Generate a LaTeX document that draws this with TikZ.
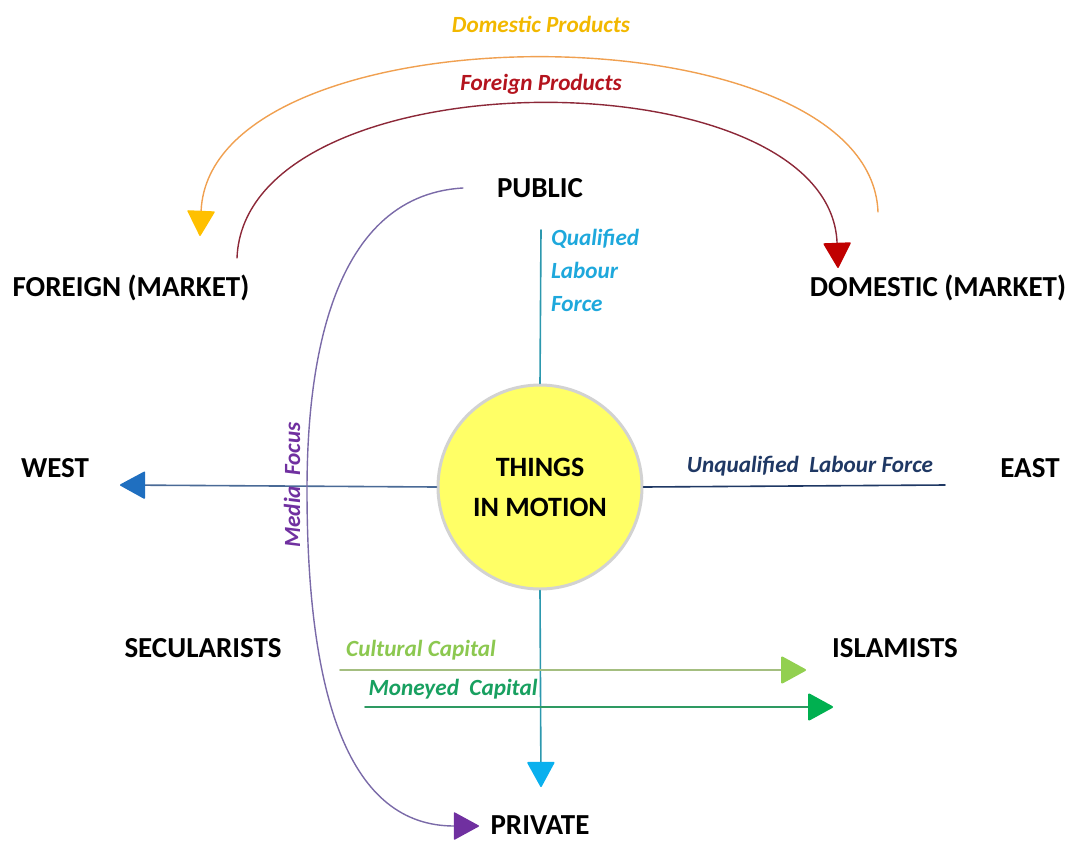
\documentclass[tikz,border=0pt]{standalone}
\usepackage{fontspec}
\setmainfont{Carlito}
\usetikzlibrary{arrows.meta}

\definecolor{goldtxt}{HTML}{F2B800}
\definecolor{goldarc}{HTML}{F0A050}
\definecolor{goldtip}{HTML}{FFC000}
\definecolor{redtxt}{HTML}{B4141E}
\definecolor{redarc}{HTML}{8C2838}
\definecolor{redtip}{HTML}{C00000}
\definecolor{qualtxt}{HTML}{1EA8DC}
\definecolor{qualline}{HTML}{2C98AE}
\definecolor{qualtip}{HTML}{0AB0EE}
\definecolor{unqual}{HTML}{1F3864}
\definecolor{westline}{HTML}{4A6A96}
\definecolor{westtip}{HTML}{1F6FC0}
\definecolor{cultxt}{HTML}{8CC850}
\definecolor{culline}{HTML}{A4BE80}
\definecolor{cultip}{HTML}{92D050}
\definecolor{montxt}{HTML}{18A060}
\definecolor{monline}{HTML}{2E9A62}
\definecolor{montip}{HTML}{00B050}
\definecolor{medtxt}{HTML}{7030A0}
\definecolor{medline}{HTML}{7A6AA8}
\definecolor{coreyel}{HTML}{FFFF66}

\tikzset{
  pole/.style={font=\bfseries\fontsize{14.5}{17}\selectfont, text=black},
  flow/.style={font=\bfseries\itshape\fontsize{11.6}{16.5}\selectfont},
  headed/.style={-{Triangle[length=13pt,width=14pt,round,color=#1]}},
}

\begin{document}
\begin{tikzpicture}[line cap=round,line join=round,x=0.5pt,y=-0.5pt]
\useasboundingbox (0,0) rectangle (1081,841);

% poles
\node[pole] (public) at (540,188) {PUBLIC};
\node[pole, inner sep=1pt] (private) at (540,825) {PRIVATE};
\node[pole] (west) at (55,468) {WEST};
\node[pole] (east) at (1030,468) {EAST};
\node[pole] (foreign) at (131,288) {FOREIGN (MARKET)};
\node[pole] (domestic) at (938,288) {DOMESTIC (MARKET)};
\node[pole] (secular) at (203,648) {SECULARISTS};
\node[pole] (islam) at (895,648) {ISLAMISTS};

% centre
\node[circle, fill=coreyel, draw=gray!35, line width=1.5pt, minimum size=102pt,
      align=center, font=\bfseries\fontsize{14}{20}\selectfont] (motion) at (540,487) {THINGS\\IN MOTION};

% free ends
\coordinate (qtop) at (541,230);
\coordinate (ptip) at (541,787);
\coordinate (wtip) at (120,485);
\coordinate (eend) at (945,485);
\coordinate (cstart) at (340,670);
\coordinate (ctip) at (806,670);
\coordinate (mstart) at (365,707);
\coordinate (mtip) at (833,707);
\coordinate (dpstart) at (878,212);
\coordinate (dptip) at (200,236);
\coordinate (fpstart) at (237,258);
\coordinate (fptip) at (838,268);
\coordinate (mfstart) at (463,188);
\coordinate (mftip) at (479,826);

% axes
\draw[qualline, line width=0.8pt] (motion.north) -- (qtop);
\draw[qualline, line width=0.8pt, headed=qualtip] (motion.south) -- (ptip);
\draw[westline, line width=0.8pt, headed=westtip] (motion.west) -- (wtip);
\draw[unqual, line width=0.8pt] (motion.east) -- (eend);

% capital flows
\draw[culline, line width=1pt, headed=cultip] (cstart) -- (ctip);
\draw[monline, line width=1pt, headed=montip] (mstart) -- (mtip);

% product arcs
\draw[goldarc, line width=0.7pt, headed=goldtip] (dpstart) .. controls (870,5) and (210,5) .. (dptip);
\draw[redarc, line width=0.7pt, headed=redtip] (fpstart) .. controls (245,53) and (830,53) .. (fptip);

% media focus
\draw[medline, line width=0.7pt, headed=medtxt] (mfstart) .. controls (325,196) and (307,380) .. (307,490)
  .. controls (307,700) and (350,826) .. (mftip);

% labels
\node[flow, text=goldtxt] (dplabel) at (541,24) {Domestic Products};
\node[flow, text=redtxt] (fplabel) at (541,84) {Foreign Products};
\node[flow, text=qualtxt, align=left, anchor=west] (qlabel) at (544,270) {Qualified\\Labour\\Force};
\node[flow, text=unqual] (ulabel) at (810,466) {Unqualified~~Labour Force};
\node[flow, text=cultxt] (clabel) at (421,650) {Cultural Capital};
\node[flow, text=montxt] (mlabel) at (453,689) {Moneyed~~Capital};
\node[flow, text=medtxt, rotate=90] (mflabel) at (292,485) {Media~~Focus};
\end{tikzpicture}
\end{document}
